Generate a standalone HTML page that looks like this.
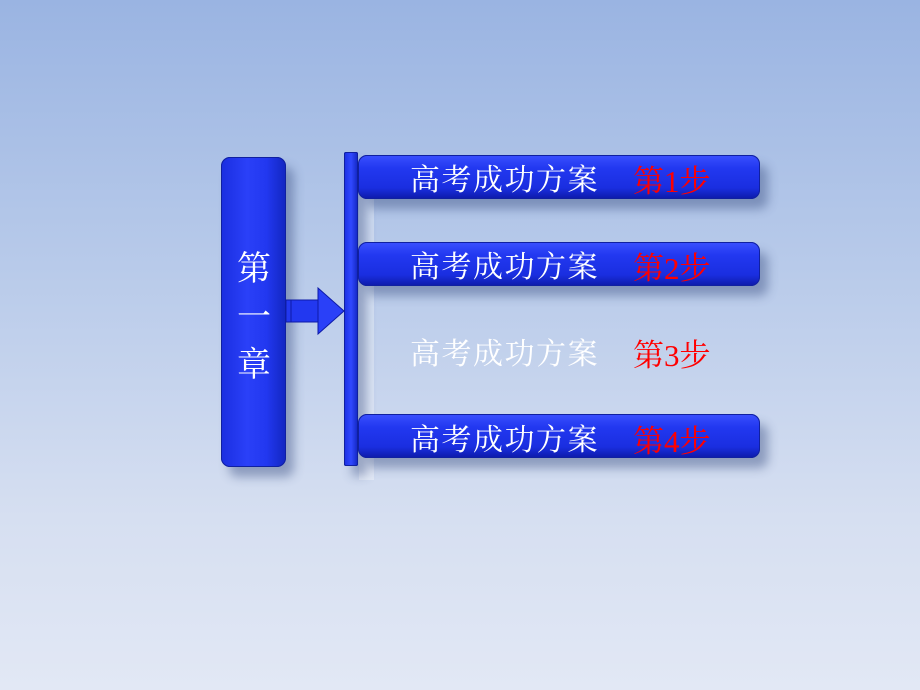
<!DOCTYPE html>
<html><head><meta charset="utf-8"><style>
body{margin:0;width:920px;height:690px;overflow:hidden;background:linear-gradient(180deg,#9ab4e2 0%,#b9cbea 40%,#d6dff1 75%,#e2e8f5 100%);position:relative;font-family:"Liberation Serif","Noto Serif CJK SC",serif;}
.b{position:absolute;background:linear-gradient(180deg,#3a50ff 0%,#2238f0 30%,#1a2ee0 75%,#0d1aa8 100%);border-radius:9px;box-shadow:8px 10px 10px rgba(60,80,130,.45), inset 0 0 0 1px #1020a0;}
.t{position:absolute;font-size:30px;line-height:1;white-space:nowrap;}
.w{color:#fff;letter-spacing:1.5px}.r{color:#ff0000;font-size:31px}
</style></head><body>
<div class="b" style="left:221px;top:157px;width:65px;height:310px;background:linear-gradient(90deg,#1a2ee0,#2a40f8 40%,#2238f0 70%,#1226c0);"></div>
<div class="t w" style="left:235px;top:246px;line-height:48px;width:38px;text-align:center;font-size:34px;letter-spacing:0">第<br>一<br>章</div>
<svg style="position:absolute;left:284px;top:284px" width="64" height="58">
<rect x="2" y="16" width="36" height="22" fill="#2238f0" stroke="#0d1aa8"/>
<line x1="7" y1="16" x2="7" y2="38" stroke="#0d1aa8"/>
<polygon points="34,4 60,27 34,50" fill="#2a40f8" stroke="#0d1aa8"/>
</svg>
<div style="position:absolute;left:359px;top:160px;width:15px;height:320px;background:rgba(255,255,255,.35)"></div>
<div class="b" style="left:344px;top:152px;width:14px;height:314px;border-radius:2px;background:linear-gradient(90deg,#1a2ee0,#3048ff 50%,#1226c0);"></div>
<div class="b" style="left:358px;top:155px;width:402px;height:44px;"></div>
<div class="b" style="left:358px;top:242px;width:402px;height:44px;"></div>
<div class="b" style="left:358px;top:414px;width:402px;height:44px;"></div>
<div class="t w" style="left:410px;top:166px">高考成功方案</div><div class="t r" style="left:633px;top:166px">第1步</div>
<div class="t w" style="left:410px;top:253px">高考成功方案</div><div class="t r" style="left:633px;top:253px">第2步</div>
<div class="t w" style="left:410px;top:340px">高考成功方案</div><div class="t r" style="left:633px;top:340px">第3步</div>
<div class="t w" style="left:410px;top:426px">高考成功方案</div><div class="t r" style="left:633px;top:426px">第4步</div>
</body></html>
